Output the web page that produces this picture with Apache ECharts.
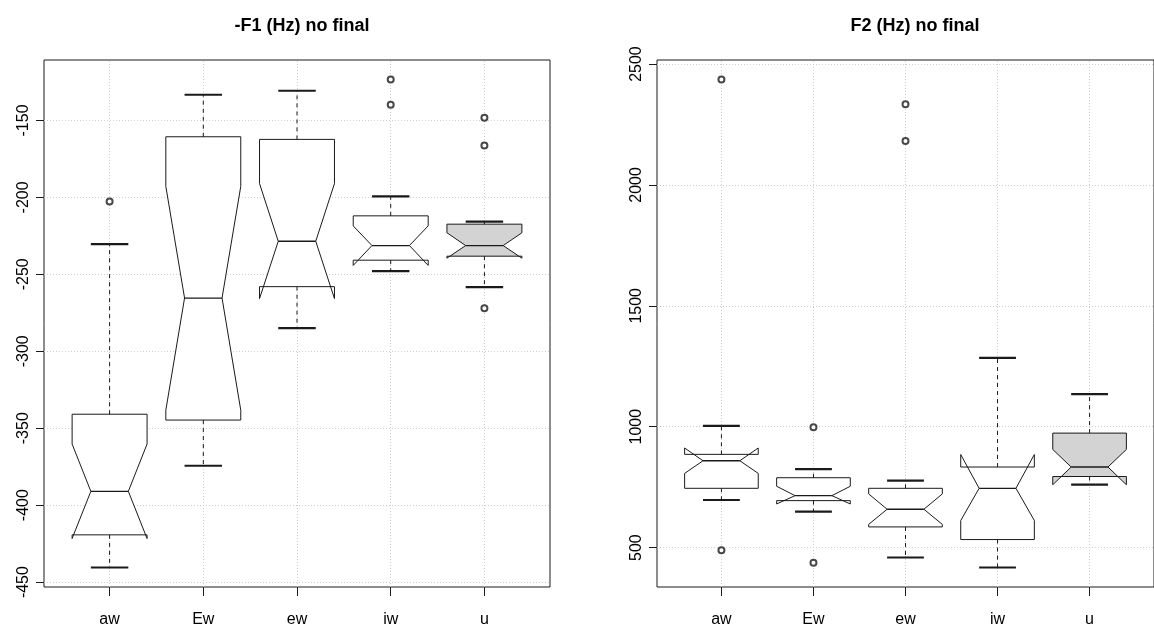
<!DOCTYPE html>
<html>
<head>
<meta charset="utf-8">
<script src="https://cdn.jsdelivr.net/npm/echarts@6/dist/echarts.min.js"></script>
<style>
  html, body { margin: 0; padding: 0; background: #fff; }
  #chart { width: 1154px; height: 628px; }
</style>
</head>
<body>
<div id="chart"></div>
<script>
// Vowel groups along the x axis
const categories = ['aw', 'Ew', 'ew', 'iw', 'u'];

// -F1 (Hz), word-final context excluded: whisker ends, hinges, median and notch limits
const f1Low      = [-440.5, -374.4, -284.9, -247.9, -258.3];
const f1Q1       = [-419.3, -344.7, -258.0, -240.8, -238.2];
const f1Median   = [-391.0, -265.4, -228.5, -231.3, -231.3];
const f1Q3       = [-340.9, -160.6, -162.3, -212.0, -217.4];
const f1High     = [-230.4, -133.3, -130.7, -199.3, -215.7];
const f1NotchLo  = [-421.7, -338.3, -265.8, -244.2, -239.5];
const f1NotchHi  = [-360.3, -192.8, -191.0, -218.5, -223.0];
const f1Outliers = [['aw', -202.7], ['iw', -123.4], ['iw', -139.8], ['u', -148.2], ['u', -166.2], ['u', -272.1]];
const f1Ticks    = [-450, -400, -350, -300, -250, -200, -150];

// F2 (Hz), word-final context excluded
const f2Low      = [697.0, 648.8, 459.0, 417.8, 760.3];
const f2Q1       = [745.3, 694.3, 585.6, 533.3, 794.0];
const f2Median   = [859.2, 714.9, 658.7, 745.3, 833.3];
const f2Q3       = [885.7, 789.0, 745.3, 833.3, 973.6];
const f2High     = [1003.7, 825.0, 776.7, 1284.4, 1134.5];
const f2NotchLo  = [807.0, 680.6, 596.0, 612.0, 760.0];
const f2NotchHi  = [912.0, 753.6, 722.0, 885.0, 906.0];
const f2Outliers = [['aw', 2436], ['aw', 489.5], ['Ew', 998], ['Ew', 437], ['ew', 2334], ['ew', 2182]];
const f2Ticks    = [500, 1000, 1500, 2000, 2500];

const titles = ['-F1 (Hz) no final', 'F2 (Hz) no final'];

// ---- styling ----
const FONT = "'Liberation Sans', Arial, Helvetica, sans-serif";
const INK = '#1a1a1a';
const GRID_COLOR = '#cfcfcf';
const SHADED_GROUP = 'u';
const SHADE_FILL = '#d3d3d3';
const BOX_HALF = 0.4;      // half box width in category units
const STAPLE = 0.5;        // whisker cap relative to box width

function boxRows(low, q1, med, q3, high, nlo, nhi) {
  return categories.map((c, i) => [i + 1, low[i], q1[i], med[i], q3[i], high[i], nlo[i], nhi[i]]);
}

function paddedRange(rows, outliers) {
  const vals = [];
  rows.forEach(r => vals.push(r[1], r[5]));
  outliers.forEach(o => vals.push(o[1]));
  const lo = Math.min(...vals), hi = Math.max(...vals);
  const pad = (hi - lo) * 0.04;
  return [lo - pad, hi + pad];
}

function renderNotchedBox(params, api) {
  const x = api.value(0);
  const px = v => api.coord([x, v])[1];
  const cx = api.coord([x, api.value(3)])[0];
  const half = api.size([BOX_HALF, 0])[0];
  const yLow = px(api.value(1)), yQ1 = px(api.value(2)), yMed = px(api.value(3));
  const yQ3 = px(api.value(4)), yHigh = px(api.value(5));
  const yNlo = px(api.value(6)), yNhi = px(api.value(7));
  const xl = cx - half, xr = cx + half, ml = cx - half / 2, mr = cx + half / 2;
  const cap = half * STAPLE;
  const fill = categories[params.dataIndex] === SHADED_GROUP ? SHADE_FILL : '#ffffff';
  const whisker = { stroke: INK, lineWidth: 1, lineDash: [4, 4] };
  const staple = { stroke: INK, lineWidth: 2.2 };
  return {
    type: 'group',
    children: [
      { type: 'polygon', shape: { points: [
          [xl, yQ1], [xl, yNlo], [ml, yMed], [xl, yNhi], [xl, yQ3],
          [xr, yQ3], [xr, yNhi], [mr, yMed], [xr, yNlo], [xr, yQ1]
        ] }, style: { fill: fill, stroke: INK, lineWidth: 1 } },
      { type: 'line', shape: { x1: ml, y1: yMed, x2: mr, y2: yMed }, style: { stroke: INK, lineWidth: 1.3 } },
      { type: 'line', shape: { x1: cx, y1: yQ3, x2: cx, y2: yHigh }, style: whisker },
      { type: 'line', shape: { x1: cx, y1: yQ1, x2: cx, y2: yLow }, style: whisker },
      { type: 'line', shape: { x1: cx - cap, y1: yHigh, x2: cx + cap, y2: yHigh }, style: staple },
      { type: 'line', shape: { x1: cx - cap, y1: yLow, x2: cx + cap, y2: yLow }, style: staple }
    ]
  };
}

const panels = [
  { rows: boxRows(f1Low, f1Q1, f1Median, f1Q3, f1High, f1NotchLo, f1NotchHi), outliers: f1Outliers, ticks: f1Ticks },
  { rows: boxRows(f2Low, f2Q1, f2Median, f2Q3, f2High, f2NotchLo, f2NotchHi), outliers: f2Outliers, ticks: f2Ticks }
];

const grids = [
  { left: 44, top: 60, right: 604, bottom: 39 },
  { left: 657, top: 60, right: -9, bottom: 39 }
];

const catTicks = categories.map((c, i) => i + 1);

const option = {
  animation: false,
  backgroundColor: '#ffffff',
  title: titles.map((t, i) => ({
    text: t,
    left: i === 0 ? 297 : 910,
    top: 12,
    textAlign: 'center',
    textStyle: { fontFamily: FONT, fontSize: 18, fontWeight: 'bold', color: '#000' }
  })),
  grid: grids.map(g => Object.assign({ show: true, borderColor: INK, borderWidth: 1 }, g)),
  xAxis: panels.map((p, i) => ({
    type: 'value',
    gridIndex: i,
    min: 0.3,
    max: 5.7,
    axisLine: { show: false },
    splitLine: { show: false },
    axisTick: { show: true, customValues: catTicks, length: 9, lineStyle: { color: INK } },
    axisLabel: {
      customValues: catTicks,
      formatter: v => categories[Math.round(v) - 1] || '',
      margin: 25,
      fontFamily: FONT, fontSize: 16, color: '#000'
    }
  })),
  yAxis: panels.map((p, i) => {
    const r = paddedRange(p.rows, p.outliers);
    return {
      type: 'value',
      gridIndex: i,
      min: r[0],
      max: r[1],
      axisLine: { show: false },
      splitLine: { show: false },
      axisTick: { show: true, customValues: p.ticks, length: 8, lineStyle: { color: INK } },
      axisLabel: {
        customValues: p.ticks,
        formatter: v => String(v),
        rotate: 90,
        margin: 12,
        fontFamily: FONT, fontSize: 16, color: '#000'
      }
    };
  }),
  series: []
};

panels.forEach((p, i) => {
  option.series.push({
    type: 'custom',
    xAxisIndex: i,
    yAxisIndex: i,
    z: 2,
    silent: true,
    renderItem: renderNotchedBox,
    encode: { x: 0, y: [1, 2, 3, 4, 5, 6, 7] },
    data: p.rows
  });
  option.series.push({
    type: 'scatter',
    xAxisIndex: i,
    yAxisIndex: i,
    z: 3,
    silent: true,
    symbol: 'emptyCircle',
    symbolSize: 6,
    itemStyle: { color: INK, borderColor: INK, borderWidth: 0.9 },
    data: p.outliers.map(o => [categories.indexOf(o[0]) + 1, o[1]]),
    markLine: {
      silent: true,
      z: 1,
      symbol: ['none', 'none'],
      label: { show: false },
      lineStyle: { color: GRID_COLOR, type: [1, 2], width: 1 },
      emphasis: { disabled: true },
      data: p.ticks.map(t => ({ yAxis: t })).concat(catTicks.map(c => ({ xAxis: c })))
    }
  });
});

const chart = echarts.init(document.getElementById('chart'), null, { renderer: 'canvas' });
chart.setOption(option);
</script>
</body>
</html>
